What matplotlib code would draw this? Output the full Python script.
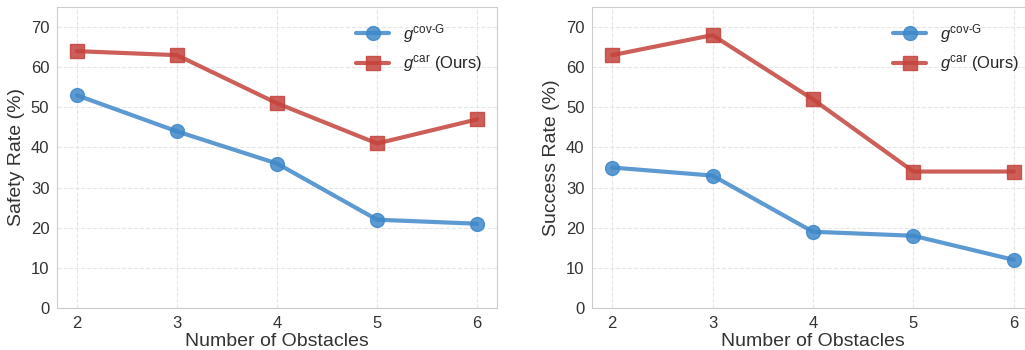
import matplotlib.pyplot as plt
import seaborn as sns

obstacles = [2, 3, 4, 5, 6]
safety_covg = [53, 44, 36, 22, 21]
safety_car = [64, 63, 51, 41, 47]
success_covg = [35, 33, 19, 18, 12]
success_car = [63, 68, 52, 34, 34]

sns.set_style('whitegrid')
plt.rcParams['font.family'] = ['Liberation Sans', 'DejaVu Sans']
plt.rcParams['mathtext.fontset'] = 'custom'
plt.rcParams['mathtext.it'] = 'Liberation Sans:italic'
plt.rcParams['mathtext.rm'] = 'Liberation Sans'

blue = '#3f88c9'
red = '#c4433c'

fig = plt.figure(figsize=(10.25, 3.5), dpi=100)
ax1 = fig.add_axes([0.0556, 0.12, 0.4294, 0.86])
ax2 = fig.add_axes([0.5776, 0.12, 0.431, 0.86])

for ax, covg, car, ylabel in [(ax1, safety_covg, safety_car, 'Safety Rate (%)'),
                              (ax2, success_covg, success_car, 'Success Rate (%)')]:
    ax.plot(obstacles, covg, color=blue, marker='o', lw=3, ms=10, alpha=0.85,
            label=r'$g^{\mathrm{cov\text{-}G}}$')
    ax.plot(obstacles, car, color=red, marker='s', lw=3, ms=10, alpha=0.85,
            label=r'$g^{\mathrm{car}}$ (Ours)')
    ax.set_xlim(1.8, 6.2)
    ax.set_ylim(0, 75)
    ax.set_xticks(obstacles)
    ax.set_yticks(range(0, 80, 10))
    ax.tick_params(labelsize=12, pad=2, colors='#333333')
    ax.set_xlabel('Number of Obstacles', fontsize=14, color='#333333', labelpad=2)
    ax.set_ylabel(ylabel, fontsize=14, color='#333333', labelpad=4)
    ax.grid(True, ls='--', color='#e6e6e6', lw=0.8)
    for s in ax.spines.values():
        s.set_color('#cccccc')
    ax.legend(loc='upper right', fontsize=12, frameon=False)

plt.savefig('out.png')
plt.close()
